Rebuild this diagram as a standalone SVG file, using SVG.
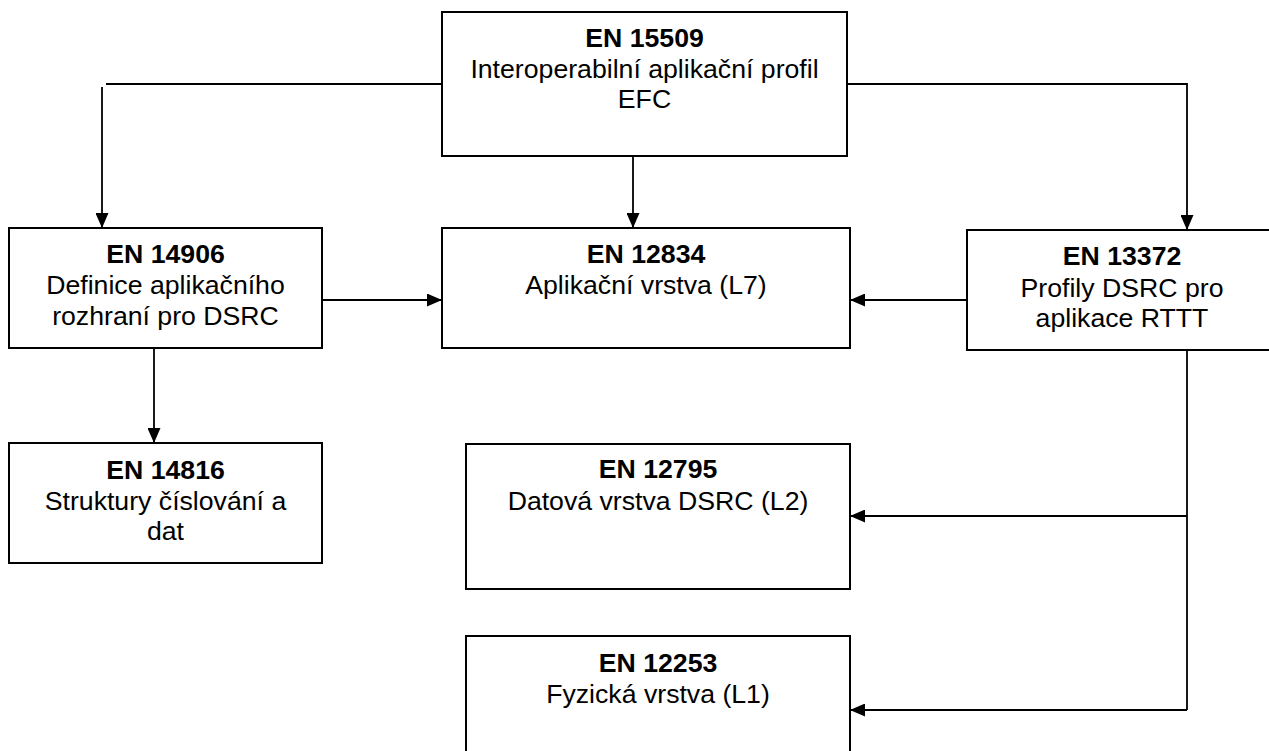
<svg xmlns="http://www.w3.org/2000/svg" width="1269" height="751" viewBox="0 0 1269 751">
<style>
.box{fill:#fff;stroke:#000;stroke-width:2}
.t{font-family:"Liberation Sans",Arial,sans-serif;font-size:26.67px;fill:#000;text-anchor:middle}
.b{font-weight:bold}
.c{fill:none;stroke:#000;stroke-width:1.8}
</style>
<defs>
<marker id="ah" viewBox="0 0 15 13" refX="15" refY="6.5" markerWidth="15" markerHeight="13" markerUnits="userSpaceOnUse" orient="auto">
<path d="M0,0 L15,6.5 L0,13 z" fill="#000"/>
</marker>
</defs>
<rect width="1269" height="751" fill="#fff"/>
<g id="connectors">
<path class="c" d="M442,84 H106"/>
<path class="c" d="M102,87 V228" marker-end="url(#ah)"/>
<path class="c" d="M848,84 H1187 V230" marker-end="url(#ah)"/>
<path class="c" d="M633,156 V228" marker-end="url(#ah)"/>
<path class="c" d="M322,300 H442" marker-end="url(#ah)"/>
<path class="c" d="M971,300 H850" marker-end="url(#ah)"/>
<path class="c" d="M154,348 V443" marker-end="url(#ah)"/>
<path class="c" d="M1187,348 V710"/>
<path class="c" d="M1187,516 H850" marker-end="url(#ah)"/>
<path class="c" d="M1187,710 H850" marker-end="url(#ah)"/>
</g>
<g id="n15509">
<rect class="box" x="442" y="12" width="405" height="144"/>
<text class="t b" x="644.5" y="47">EN 15509</text>
<text class="t" x="644.5" y="78">Interoperabilní aplikační profil</text>
<text class="t" x="644.5" y="108">EFC</text>
</g>
<g id="n14906">
<rect class="box" x="9" y="228" width="313" height="120"/>
<text class="t b" x="165.5" y="263">EN 14906</text>
<text class="t" x="165.5" y="294">Definice aplikačního</text>
<text class="t" x="165.5" y="325">rozhraní pro DSRC</text>
</g>
<g id="n12834">
<rect class="box" x="442" y="228" width="408" height="120"/>
<text class="t b" x="646" y="263">EN 12834</text>
<text class="t" x="646" y="294">Aplikační vrstva (L7)</text>
</g>
<g id="n13372">
<rect class="box" x="967" y="230" width="312" height="120"/>
<text class="t b" x="1122" y="265">EN 13372</text>
<text class="t" x="1122" y="297">Profily DSRC pro</text>
<text class="t" x="1122" y="327">aplikace RTTT</text>
</g>
<g id="n14816">
<rect class="box" x="9" y="443" width="313" height="120"/>
<text class="t b" x="165.5" y="479">EN 14816</text>
<text class="t" x="165.5" y="510">Struktury číslování a</text>
<text class="t" x="165.5" y="540">dat</text>
</g>
<g id="n12795">
<rect class="box" x="466" y="444" width="384" height="145"/>
<text class="t b" x="658" y="478">EN 12795</text>
<text class="t" x="658" y="510">Datová vrstva DSRC (L2)</text>
</g>
<g id="n12253">
<rect class="box" x="466" y="636" width="384" height="130"/>
<text class="t b" x="658" y="672">EN 12253</text>
<text class="t" x="658" y="703">Fyzická vrstva (L1)</text>
</g>
</svg>
